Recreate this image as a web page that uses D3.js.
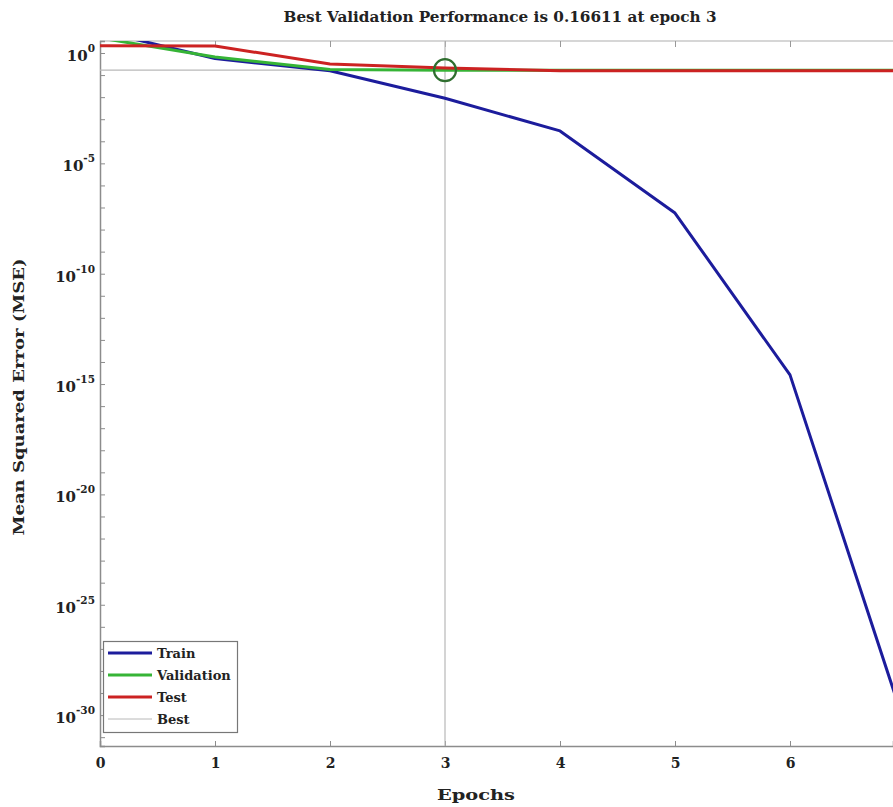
<!DOCTYPE html>
<html>
<head>
<meta charset="utf-8">
<script src="https://cdn.jsdelivr.net/npm/d3@7"></script>
<style>
  html, body { margin: 0; padding: 0; background: #fff; }
  svg { display: block; }
  text { font-family: "DejaVu Serif", "Liberation Serif", serif; font-weight: bold; fill: #222; }
</style>
</head>
<body>
<div id="chart"></div>
<script>
// ---- Data ----
const epochs = [0, 1, 2, 3, 4, 5, 6, 7];
const trainMSE = [10, 0.56, 0.158, 0.0089, 2.95e-4, 5.6e-8, 2.6e-15, 3.5e-31];
const validationMSE = [4.8, 0.66, 0.178, 0.16611, 0.1665, 0.1665, 0.1665, 0.1665];
const testMSE = [2.14, 2.09, 0.316, 0.21, 0.158, 0.157, 0.157, 0.157];
const bestEpoch = 3;
const bestPerf = 0.16611;
const xTicks = [0, 1, 2, 3, 4, 5, 6];
const yLabelExponents = [0, -5, -10, -15, -20, -25, -30];
const legendNames = ["Train", "Validation", "Test", "Best"];
const titleText = "Best Validation Performance is 0.16611 at epoch 3";

// ---- Layout ----
const W = 893, H = 807;
const pL = 100, pR = 893, pT = 41, pB = 746;
const colors = { Train: "#1c1c9c", Validation: "#36b436", Test: "#cc2222", Best: "#b8b8b8" };

const svg = d3.select("#chart").append("svg").attr("width", W).attr("height", H);

const x = d3.scaleLinear().domain([0, (pR - pL) / 115]).range([pL, pR]);
const y = d3.scaleLog().domain([Math.pow(10, 0.544), Math.pow(10, -31.4)]).range([pT, pB]);

svg.append("defs").append("clipPath").attr("id", "plotClip")
  .append("rect").attr("x", pL).attr("y", pT).attr("width", pR - pL).attr("height", pB - pT);

// Title
svg.append("text").attr("x", 500).attr("y", 22).attr("text-anchor", "middle")
  .style("font-size", "15px").attr("textLength", 433).attr("lengthAdjust", "spacingAndGlyphs")
  .text(titleText);

// Axis labels
svg.append("text").attr("x", 476).attr("y", 800).attr("text-anchor", "middle")
  .style("font-size", "15.5px").attr("textLength", 78).attr("lengthAdjust", "spacingAndGlyphs").text("Epochs");
svg.append("text").attr("transform", "translate(24,397) rotate(-90)")
  .attr("text-anchor", "middle").style("font-size", "15.5px")
  .attr("textLength", 277).attr("lengthAdjust", "spacingAndGlyphs").text("Mean Squared Error  (MSE)");

const axisColor = "#8c8c8c";
svg.append("line").attr("x1", pL).attr("x2", pR).attr("y1", pT).attr("y2", pT)
  .attr("stroke", "#c8c8c8").attr("stroke-width", 1.5);

// Bottom axis
const xAxis = d3.axisBottom(x).tickValues(xTicks).tickSize(-5).tickPadding(12).tickFormat(d3.format("d"));
const gx = svg.append("g").attr("transform", "translate(0," + pB + ")").call(xAxis);
gx.select(".domain").attr("stroke", axisColor).attr("stroke-width", 1.5);
gx.selectAll(".tick line").attr("stroke", axisColor);
gx.selectAll(".tick text").style("font-size", "14px").style("font-family", "DejaVu Serif, serif")
  .style("font-weight", "bold").attr("fill", "#222");

// Top ticks
const gxt = svg.append("g").attr("transform", "translate(0," + pT + ")")
  .call(d3.axisTop(x).tickValues(xTicks).tickSize(-6).tickFormat(""));
gxt.select(".domain").remove();
gxt.selectAll(".tick line").attr("stroke", "#999");

// Left axis: tick at every decade
const decades = d3.range(0, -32, -1).map(e => Math.pow(10, e));
const yAxis = d3.axisLeft(y).tickValues(decades).tickSize(-5).tickFormat("");
const gy = svg.append("g").attr("transform", "translate(" + pL + ",0)").call(yAxis);
gy.select(".domain").attr("stroke", axisColor).attr("stroke-width", 1.5);
gy.selectAll(".tick line").attr("stroke", axisColor);

// Y tick labels with superscripts
yLabelExponents.forEach(e => {
  const t = svg.append("text").attr("x", pL - 5).attr("y", y(Math.pow(10, e)) + 8)
    .attr("text-anchor", "end").style("font-size", "15px");
  t.append("tspan").text("10");
  t.append("tspan").attr("dy", -9).style("font-size", "10.5px").text(String(e));
});

// Best lines and series
const plot = svg.append("g").attr("clip-path", "url(#plotClip)");
plot.append("line").attr("x1", x(bestEpoch)).attr("x2", x(bestEpoch)).attr("y1", pT).attr("y2", pB)
  .attr("stroke", colors.Best).attr("stroke-width", 1.2);
plot.append("line").attr("x1", pL).attr("x2", pR).attr("y1", y(bestPerf)).attr("y2", y(bestPerf))
  .attr("stroke", colors.Best).attr("stroke-width", 1.2);

const line = d3.line().x((d, i) => x(epochs[i])).y(d => y(d));
[["Train", trainMSE], ["Validation", validationMSE], ["Test", testMSE]].forEach(([name, vals]) => {
  plot.append("path").datum(vals).attr("d", line).attr("fill", "none")
    .attr("stroke", colors[name]).attr("stroke-width", 3).attr("stroke-linejoin", "round");
});

plot.append("circle").attr("cx", x(bestEpoch)).attr("cy", y(bestPerf)).attr("r", 11)
  .attr("fill", "none").attr("stroke", "#2f6e2f").attr("stroke-width", 2.2);

// Legend
const lg = svg.append("g");
lg.append("rect").attr("x", 103.5).attr("y", 641.5).attr("width", 134).attr("height", 91)
  .attr("fill", "#fff").attr("stroke", "#777").attr("stroke-width", 1.2);
legendNames.forEach((name, i) => {
  const yy = 653 + i * 22;
  lg.append("line").attr("x1", 108).attr("x2", 152).attr("y1", yy).attr("y2", yy)
    .attr("stroke", colors[name]).attr("stroke-width", name === "Best" ? 1 : 3);
  lg.append("text").attr("x", 157).attr("y", yy + 5).style("font-size", "13px").text(name);
});
</script>
</body>
</html>
